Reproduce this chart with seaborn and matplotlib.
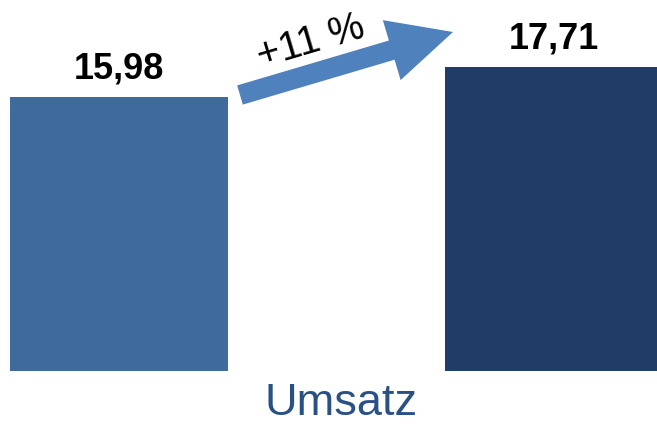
import matplotlib
matplotlib.use("Agg")
import matplotlib.pyplot as plt
import seaborn as sns
import pandas as pd
from matplotlib.patches import FancyArrowPatch

# data
categories = ["Vorjahr", "Aktuell"]
values = [15.98, 17.71]
value_labels = ["15,98", "17,71"]
bar_colors = ["#3F6A9C", "#1F3D66"]
growth_label = "+11 %"
axis_label = "Umsatz"

sns.set_theme(style="white")
plt.rcParams["font.family"] = ["Liberation Sans", "DejaVu Sans"]

W, H = 657, 425
fig = plt.figure(figsize=(W / 100, H / 100), dpi=100)
ax = fig.add_axes([0, 0, 1, 1])

df = pd.DataFrame({"cat": categories, "val": values})
sns.barplot(data=df, x="cat", y="val", hue="cat", palette=bar_colors,
            legend=False, width=0.501, linewidth=0, ax=ax, saturation=1)

ax.set_xlim(-0.2736, 1.2368)
ax.set_ylim(-3.149, 21.63)
ax.axis("off")

for i, (v, lab) in enumerate(zip(values, value_labels)):
    ax.annotate(lab, xy=(i, v), xytext=(0, 13.3), textcoords="offset points",
                ha="center", va="baseline", fontsize=26, fontweight="bold",
                color="black")

# growth arrow (axes fraction coords, axes covers the figure)
def frac(px, py):
    return (px / W, 1 - py / H)

arrow = FancyArrowPatch(frac(240, 95), frac(453, 32), transform=ax.transAxes,
                        arrowstyle="simple,head_length=46,head_width=45,tail_width=14.4",
                        mutation_scale=1, shrinkA=0, shrinkB=0,
                        color="#4F81BD", linewidth=0)
ax.add_patch(arrow)

ax.text(*frac(314, 52), growth_label, transform=ax.transAxes, rotation=16.5,
        rotation_mode="anchor", ha="center", va="baseline", fontsize=28.5,
        color="black")

ax.text(*frac(341, 424), axis_label, transform=ax.transAxes, ha="center",
        va="bottom", fontsize=32.5, color="#2A5186")

fig.savefig("out.png", dpi=100)
